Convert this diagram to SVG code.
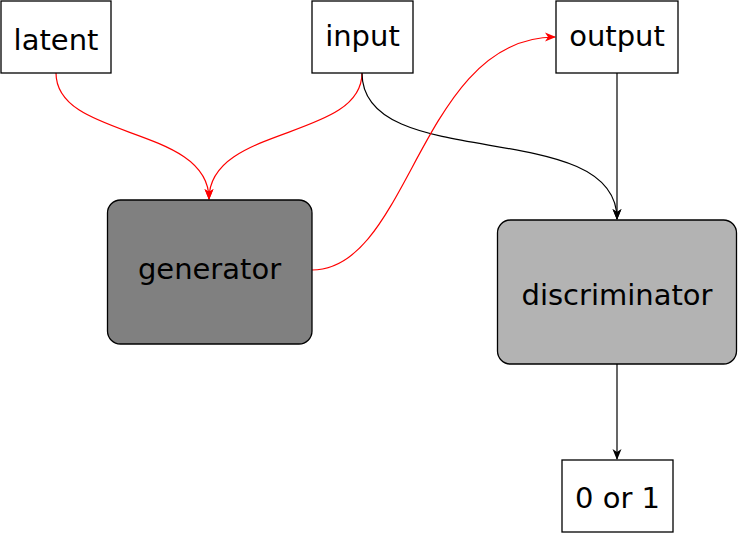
<svg xmlns="http://www.w3.org/2000/svg" width="738" height="534" viewBox="0 0 738 534">
<style>
.box{fill:#fff;stroke:#000;stroke-width:1.3}
.lbl{font-family:"DejaVu Sans",sans-serif;font-size:29px;fill:#000;text-anchor:middle}
.e{fill:none;stroke-width:1.2}
.red{stroke:#ff0000}
.blk{stroke:#000}
</style>
<defs>
<marker id="ar" viewBox="0 0 11 10" refX="10" refY="5" markerWidth="11" markerHeight="10" markerUnits="userSpaceOnUse" orient="auto">
<path d="M0,0.5 L11,5 L0,9.5 L3,5 Z" fill="#ff0000"/>
</marker>
<marker id="ab" viewBox="0 0 11 10" refX="10" refY="5" markerWidth="11" markerHeight="10" markerUnits="userSpaceOnUse" orient="auto">
<path d="M0,0.5 L11,5 L0,9.5 L3,5 Z" fill="#000"/>
</marker>
</defs>
<g id="connectors">
<path class="e red" d="M56,73 C56,140 209,125 209,199" marker-end="url(#ar)"/>
<path class="e red" d="M362,73 C362,140 209,125 209,199" marker-end="url(#ar)"/>
<path class="e blk" d="M362,73 C362,175 617,115 617,219" marker-end="url(#ab)"/>
<path class="e red" d="M312,270 C410,270 420,37 555,37" marker-end="url(#ar)"/>
<path class="e blk" d="M617,73 L617,219" marker-end="url(#ab)"/>
<path class="e blk" d="M617,364 L617,459" marker-end="url(#ab)"/>
</g>
<g id="latent">
<rect class="box" x="1" y="1" width="110" height="72"/>
<text class="lbl" x="56" y="50">latent</text>
</g>
<g id="input">
<rect class="box" x="312" y="1" width="101" height="72"/>
<text class="lbl" x="362.5" y="46">input</text>
</g>
<g id="output">
<rect class="box" x="556" y="1" width="122" height="72"/>
<text class="lbl" x="617" y="46">output</text>
</g>
<g id="generator">
<rect x="107.5" y="200" width="204.5" height="144" rx="13" fill="#808080" stroke="#000" stroke-width="1.3"/>
<text class="lbl" x="209.5" y="279">generator</text>
</g>
<g id="discriminator">
<rect x="497.5" y="220" width="239" height="144" rx="13" fill="#b3b3b3" stroke="#000" stroke-width="1.3"/>
<text class="lbl" x="617" y="305">discriminator</text>
</g>
<g id="out01">
<rect class="box" x="562" y="460" width="111" height="72"/>
<text class="lbl" x="617.5" y="508">0 or 1</text>
</g>
</svg>
